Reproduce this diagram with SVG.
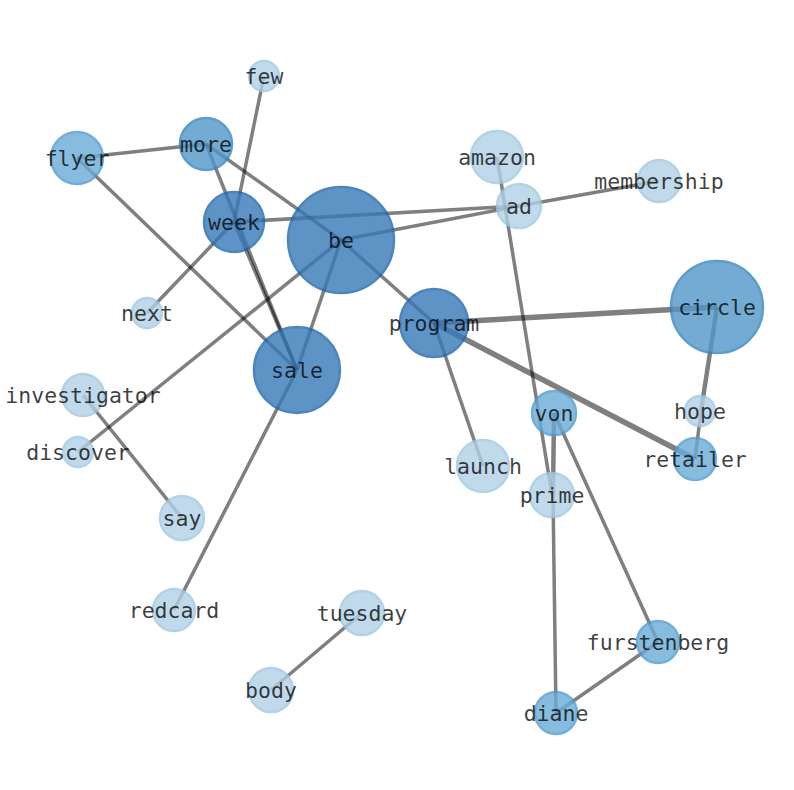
<svg xmlns="http://www.w3.org/2000/svg" width="794" height="790" viewBox="0 0 794 790">
<style>
.e{stroke:#000;stroke-opacity:0.5;stroke-width:3.5;fill:none;stroke-linecap:butt}
.t{stroke-width:5.5}
.m{stroke-width:4.5}
circle{stroke-width:2.5;opacity:0.8}
.l{fill:#b1d2e7;stroke:#9fc8e3}
.a{fill:#6aacd8;stroke:#4f9bd0}
.b{fill:#5197c9;stroke:#3585c2}
.c{fill:#3779b8;stroke:#2068ad}
text{font-family:"DejaVu Sans Mono","Liberation Mono",monospace;font-size:21.5px;fill:#000;fill-opacity:0.75;text-anchor:middle;dominant-baseline:central}
</style>
<rect width="794" height="790" fill="#fff"/>
<g id="edges">
<line class="e" x1="264" y1="76" x2="234" y2="222"/>
<line class="e" x1="206" y1="144" x2="77" y2="158"/>
<line class="e" x1="206" y1="144" x2="341" y2="240"/>
<line class="e" x1="206" y1="144" x2="297" y2="370"/>
<line class="e" x1="77" y1="158" x2="297" y2="370"/>
<line class="e" x1="234" y1="222" x2="147" y2="313"/>
<line class="e" x1="234" y1="222" x2="519" y2="206"/>
<line class="e" x1="234" y1="222" x2="297" y2="370"/>
<line class="e" x1="341" y1="240" x2="519" y2="206"/>
<line class="e" x1="341" y1="240" x2="297" y2="370"/>
<line class="e" x1="341" y1="240" x2="78" y2="452"/>
<line class="e" x1="341" y1="240" x2="434" y2="323"/>
<line class="e" x1="297" y1="370" x2="174" y2="610"/>
<line class="e" x1="519" y1="206" x2="659" y2="181"/>
<line class="e" x1="497" y1="157" x2="552" y2="495"/>
<line class="e t" x1="434" y1="323" x2="717" y2="307"/>
<line class="e t" x1="434" y1="323" x2="695" y2="459"/>
<line class="e" x1="434" y1="323" x2="483" y2="466"/>
<line class="e m" x1="717" y1="307" x2="701" y2="411"/>
<line class="e" x1="701" y1="411" x2="695" y2="459"/>
<line class="e m" x1="554" y1="413" x2="553" y2="495"/>
<line class="e" x1="553" y1="495" x2="556" y2="713"/>
<line class="e" x1="554" y1="413" x2="658" y2="642"/>
<line class="e" x1="658" y1="642" x2="556" y2="713"/>
<line class="e" x1="83" y1="395" x2="182" y2="518"/>
<line class="e" x1="362" y1="613" x2="271" y2="690"/>
</g>
<g id="n-few"><circle class="l" cx="264" cy="76" r="15"/><text x="264" y="76">few</text></g>
<g id="n-more"><circle class="b" cx="206" cy="144" r="26"/><text x="206" y="144">more</text></g>
<g id="n-flyer"><circle class="a" cx="77" cy="158" r="26"/><text x="77" y="158">flyer</text></g>
<g id="n-week"><circle class="c" cx="234" cy="222" r="30"/><text x="234" y="222">week</text></g>
<g id="n-be"><circle class="c" cx="341" cy="240" r="53"/><text x="341" y="240">be</text></g>
<g id="n-amazon"><circle class="l" cx="497" cy="157" r="26"/><text x="497" y="157">amazon</text></g>
<g id="n-ad"><circle class="l" cx="519" cy="206" r="22"/><text x="519" y="206">ad</text></g>
<g id="n-membership"><circle class="l" cx="659" cy="181" r="21"/><text x="659" y="181">membership</text></g>
<g id="n-next"><circle class="l" cx="147" cy="313" r="15"/><text x="147" y="313">next</text></g>
<g id="n-program"><circle class="c" cx="434" cy="323" r="34"/><text x="434" y="323">program</text></g>
<g id="n-circle"><circle class="b" cx="717" cy="307" r="46"/><text x="717" y="307">circle</text></g>
<g id="n-sale"><circle class="c" cx="297" cy="370" r="43"/><text x="297" y="370">sale</text></g>
<g id="n-investigator"><circle class="l" cx="83" cy="395" r="21"/><text x="83" y="395">investigator</text></g>
<g id="n-hope"><circle class="l" cx="700" cy="411" r="15"/><text x="700" y="411">hope</text></g>
<g id="n-von"><circle class="a" cx="554" cy="413" r="22"/><text x="554" y="413">von</text></g>
<g id="n-discover"><circle class="l" cx="78" cy="452" r="15"/><text x="78" y="452">discover</text></g>
<g id="n-launch"><circle class="l" cx="483" cy="466" r="26"/><text x="483" y="466">launch</text></g>
<g id="n-retailer"><circle class="a" cx="695" cy="459" r="21"/><text x="695" y="459">retailer</text></g>
<g id="n-prime"><circle class="l" cx="552" cy="495" r="22"/><text x="552" y="495">prime</text></g>
<g id="n-say"><circle class="l" cx="182" cy="518" r="22"/><text x="182" y="518">say</text></g>
<g id="n-redcard"><circle class="l" cx="174" cy="610" r="21"/><text x="174" y="610">redcard</text></g>
<g id="n-tuesday"><circle class="l" cx="362" cy="613" r="22"/><text x="362" y="613">tuesday</text></g>
<g id="n-body"><circle class="l" cx="271" cy="690" r="22"/><text x="271" y="690">body</text></g>
<g id="n-furstenberg"><circle class="a" cx="658" cy="642" r="21"/><text x="658" y="642">furstenberg</text></g>
<g id="n-diane"><circle class="a" cx="556" cy="713" r="21"/><text x="556" y="713">diane</text></g>
</svg>
